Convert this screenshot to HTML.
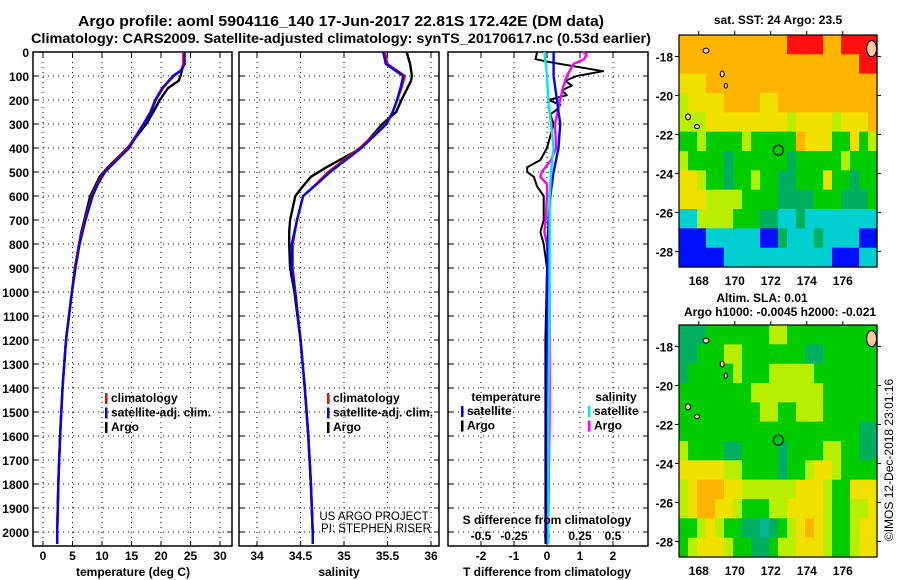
<!DOCTYPE html>
<html><head><meta charset="utf-8"><style>
body{margin:0;background:#fff;}
svg{display:block;font-family:"Liberation Sans",Arial,sans-serif;}
</style></head><body>
<svg id="c" width="900" height="580"></svg>
<script>
// ---- data ----
const depthTicks=[0,100,200,300,400,500,600,700,800,900,1000,1100,1200,1300,1400,1500,1600,1700,1800,1900,2000];
const tempTicks=[0,5,10,15,20,25,30];
const salTicks=[34,34.5,35,35.5,36];
const salTickLabels=["34","34.5","35","35.5","36"];
const dTTicks=[-2,-1,0,1,2];
const dSTickLabels=["-0.5","-0.25","0","0.25","0.5"];
const dSTicks=[-0.5,-0.25,0,0.25,0.5];
const latTicks=[-18,-20,-22,-24,-26,-28];
const lonTicks=[168,170,172,174,176];

const climDepth=[0,50,75,100,150,200,250,300,400,500,550,600,700,800,900,1000,1200,1400,1600,1800,2000,2050];
const climTemp=[23.8,23.8,23.4,22.2,20.2,19.0,18.2,17.0,14.4,10.4,9.2,8.3,7.1,6.1,5.4,4.9,3.9,3.3,2.9,2.6,2.4,2.4];
const satTemp=[24.0,24.0,23.5,22.0,20.3,19.1,18.3,17.1,14.6,10.5,9.3,8.4,7.2,6.2,5.5,4.9,3.9,3.3,2.9,2.6,2.4,2.4];
const argoDepth=[0,50,100,120,150,200,250,300,400,480,520,550,600,700,750,800,900,1000,1200,1400,1600,1800,2000,2050];
const argoTemp=[23.9,23.8,23.3,23.0,21.2,19.8,18.7,17.5,14.3,11.0,9.6,9.0,8.0,7.0,6.5,6.1,5.4,4.9,3.9,3.3,2.9,2.6,2.4,2.4];

const climSal=[35.47,35.5,35.6,35.7,35.66,35.61,35.56,35.48,35.18,34.82,34.68,34.53,34.46,34.41,34.41,34.44,34.5,34.55,34.59,34.62,34.64,34.64];
const satSal=[35.45,35.48,35.58,35.68,35.65,35.61,35.56,35.49,35.2,34.84,34.69,34.53,34.46,34.4,34.4,34.44,34.5,34.55,34.59,34.62,34.64,34.64];
const argoSal=[35.72,35.76,35.78,35.77,35.73,35.66,35.6,35.44,35.2,34.8,34.62,34.55,34.44,34.38,34.37,34.37,34.38,34.43,34.5,34.55,34.59,34.62,34.64,34.64];

const dArgoDepth=[0,30,45,80,100,120,140,160,180,200,220,240,260,300,350,400,450,480,500,520,560,600,700,750,800,900,1200,1600,2000,2050];
const dArgoT=[-0.3,-0.35,0.2,1.7,0.9,0.55,0.75,0.45,0.6,0.05,0.4,0.3,0.1,0.2,0.1,0.0,-0.2,-0.6,-0.6,-0.4,-0.3,-0.1,-0.1,-0.2,-0.1,0.0,-0.05,-0.05,-0.05,-0.05];
const dSatDepth=[0,100,200,300,400,500,600,700,800,1000,1500,2000,2050];
const dSatT=[0.2,0.2,0.3,0.4,0.35,0.2,0.1,0.05,0.02,0.0,0.0,0.0,0.0];
const dArgoSDepth=[0,10,30,50,100,150,200,250,300,400,450,500,520,550,600,700,750,800,1000,1500,2000,2050];
const dArgoS=[0.27,0.3,0.28,0.2,0.15,0.12,0.1,0.08,0.06,0.07,0.03,-0.04,-0.05,0.0,0.0,-0.01,-0.02,0.0,0.02,0.02,0.01,0.01];
const dSatS=[-0.02,0.0,0.01,0.03,0.05,0.03,0.02,0.02,0.02,0.02,0.01,0.01,0.01];

const sstRows=[
"OOOOOOOOOOOORRRROORRRR","OOOOOOOOOOOOOOOOOOOORR","YYYOOOOOOOOOOOOOOOOOOO","LYYYYOOOOYYOOOOOOOOOOO",
"LLLYYYYYYYYYLYYYYLYYYO","GGLGGGGLGGGGGOYYYGGYGL","LGGGGDGGGGGGDGGGGGLGGG","YYLGGDGGLGGDDGGGYGGDGG",
"YYYLLLLGGGGDDDDGGGDDDG","CCLLLLGGGDDCCDCCCCCCCC","BBBCCCCCCBBDCCCDCCCCBB","BBBBBCCCCCCCCCCCCBBBCC"];
const slaRows=[
"DDDGGGGGGGLLGGGGGGGGGG","DDGGGLLGGGGGGGDDGGGGGG","DGGGGGLGGGLLLLLGGGGGGG","GGGGGGGGLLLLLLLLGGGGGG",
"GGGGGGGGGLLGGLLLGGGGGG","GGGGGGGGGGGGGGGGGGGGDD","LGGGGDDGGGGDGGGGLLGGDD","YYYYYLLGGGGDGGLYYLGGGG",
"LYOOOYYLLLLLLYYYLGGYYY","LYOOYYLGGGLLYYYYLGGLLY","GGLYLGGDDTDGLYOYLGGLYY","GLYYYLGGDDGLLYYYLGGLYY"];
const palette={R:"#ff1010",O:"#ffb400",Y:"#f0e000",L:"#b8ee00",G:"#00cc00",D:"#00b060",C:"#00d0d0",B:"#0010ff",T:"#00b890"};

// ---- drawing ----
const NS="http://www.w3.org/2000/svg";
const svg=document.getElementById('c');
function mk(tag,attrs,parent){const e=document.createElementNS(NS,tag);for(const k in attrs)e.setAttribute(k,attrs[k]);(parent||svg).appendChild(e);return e;}
function txt(x,y,s,size,anchor,weight,parent){const t=mk('text',{x:x,y:y,'font-size':size,'text-anchor':anchor||'middle','font-weight':weight||'bold',fill:'#000'},parent);t.textContent=s;return t;}

const TOP=52, BOT=546;
const yD=d=>TOP+d*0.24;
const panels=[
 {x0:33,x1:232,name:'temperature-panel'},
 {x0:239,x1:439,name:'salinity-panel'},
 {x0:448,x1:648,name:'difference-panel'}];
const xT=t=>43+t*5.9;
const xS=s=>257+(s-34)*87;
const xdT=t=>547+t*33;
const xdS=s=>547+s*132;

function grid(p,xs,g){
  for(const d of depthTicks){const y=yD(d);
    const l=mk('line',{x1:p.x0,x2:p.x1,y1:y,y2:y,stroke:'#000','stroke-width':1,'stroke-dasharray':'1,4'},g);
    
    mk('line',{x1:p.x0,x2:p.x0+5,y1:y,y2:y,stroke:'#000'},g);mk('line',{x1:p.x1-5,x2:p.x1,y1:y,y2:y,stroke:'#000'},g);}
  for(const x of xs){
    const l=mk('line',{x1:x,x2:x,y1:TOP,y2:BOT,stroke:'#000','stroke-width':1,'stroke-dasharray':'1,4'},g);
    
    mk('line',{x1:x,x2:x,y1:BOT-5,y2:BOT,stroke:'#000'},g);mk('line',{x1:x,x2:x,y1:TOP,y2:TOP+5,stroke:'#000'},g);}
  const r=mk('rect',{x:p.x0,y:TOP,width:p.x1-p.x0,height:BOT-TOP,fill:'none',stroke:'#000','stroke-width':1.5},g);
  
}
function line(depths,vals,fx,color,g,name,w){
  const pts=depths.map((d,i)=>fx(vals[i]).toFixed(1)+','+yD(d).toFixed(1)).join(' ');
  const l=mk('polyline',{points:pts,fill:'none',stroke:color,'stroke-width':w||2.4,'stroke-linejoin':'round'},g);
  
}
function legend(x,y,items,g){
  items.forEach((it,i)=>{const yy=y+i*14.5;
    mk('rect',{x:x,y:yy-9,width:2.5,height:11,fill:it[1]},g);
    const t=txt(x+6,yy,it[0],12,'start','bold',g);
    });
}

// titles
let t=txt(341,26,'Argo profile: aoml 5904116_140 17-Jun-2017 22.81S 172.42E (DM data)',14.5);
t.setAttribute('textLength','526');t.setAttribute('lengthAdjust','spacingAndGlyphs');

t=txt(341,43,'Climatology: CARS2009. Satellite-adjusted climatology: synTS_20170617.nc (0.53d earlier)',14);
t.setAttribute('textLength','620');t.setAttribute('lengthAdjust','spacingAndGlyphs');


// panel 1
let g=mk('g',{});
grid(panels[0],tempTicks.map(xT),g);
depthTicks.forEach(d=>{const l=txt(29,yD(d)+5,String(d),12,'end','bold',g);});
tempTicks.forEach(v=>{const l=txt(xT(v),560,String(v),12,'middle','bold',g);});
line(argoDepth,argoTemp,xT,'#000',g,'argo-temp-line');
line(climDepth,climTemp,xT,'#ff0000',g,'clim-temp-line');
line(climDepth,satTemp,xT,'#0000ff',g,'sat-temp-line');
legend(105,402,[['climatology','#ff0000'],['satellite-adj. clim.','#0000ff'],['Argo','#000']],g);
t=txt(133,576,'temperature (deg C)',12,'middle','bold',g);

// panel 2
g=mk('g',{});
grid(panels[1],salTicks.map(xS),g);
salTicks.forEach((v,i)=>{const l=txt(xS(v),560,salTickLabels[i],12,'middle','bold',g);});
line(argoDepth,argoSal,xS,'#000',g,'argo-sal-line');
line(climDepth,climSal,xS,'#ff0000',g,'clim-sal-line');
line(climDepth,satSal,xS,'#0000ff',g,'sat-sal-line');
legend(327,402,[['climatology','#ff0000'],['satellite-adj. clim.','#0000ff'],['Argo','#000']],g);
t=txt(374,520,'US ARGO PROJECT',11.5,'middle','normal',g);
t=txt(376,532,'PI: STEPHEN RISER',11.5,'middle','normal',g);
t=txt(339,576,'salinity',12,'middle','bold',g);

// panel 3
g=mk('g',{});
grid(panels[2],dTTicks.map(xdT),g);
dTTicks.forEach(v=>{const l=txt(xdT(v),560,String(v),12,'middle','bold',g);});
dSTicks.forEach((v,i)=>{const l=txt(xdS(v),540,dSTickLabels[i],12,'middle','bold',g);});
line(dArgoDepth,dArgoT,xdT,'#000',g,'argo-dT-line',2);
line(dArgoSDepth,dArgoS,xdS,'#ff00ff',g,'argo-dS-line',2.4);
line(dSatDepth,dSatT,xdT,'#0000ff',g,'sat-dT-line',2.4);
line(dSatDepth,dSatS,xdS,'#00e8e8',g,'sat-dS-line',2.4);
txt(506,401,'temperature',12,'middle','bold',g);
legend(461,415,[['satellite','#0000ff'],['Argo','#000']],g);
txt(616,401,'salinity',12,'middle','bold',g);
legend(588,415,[['satellite','#00e8e8'],['Argo','#ff00ff']],g);
t=txt(547,524,'S difference from climatology',12,'middle','bold',g);
t=txt(547,576,'T difference from climatology',12,'middle','bold',g);

// maps
function map(y0,y1,rows,name){
  const x0=679,x1=877;
  const gx=mk('g',{});
  const lon=v=>x0+(v-166.9)*18;
  const lat=v=>y0+(-16.9-v)*(y1-y0)/11.9;
  const cw=(x1-x0)/22, ch=(y1-y0)/rows.length;
  rows.forEach((r,i)=>{for(let j=0;j<r.length;j++){
    mk('rect',{x:x0+j*cw,y:y0+i*ch,width:cw+0.6,height:ch+0.6,fill:palette[r[j]]},gx);}});
  // islands
  [[168.4,-17.7,3,2.5],[169.3,-18.9,2,3],[169.5,-19.5,1.5,2.5],[167.4,-21.1,2.5,3],[167.9,-21.6,2.5,2],[177.6,-17.6,5,8]].forEach(s=>{
    const e=mk('ellipse',{cx:lon(s[0]),cy:lat(s[1]),rx:s[2],ry:s[3],fill:'#ffc8a0',stroke:'#000','stroke-width':1},gx);
    });
  const c=mk('circle',{cx:lon(172.42),cy:lat(-22.81),r:5,fill:'none',stroke:'#000','stroke-width':1.2},gx);
  
  mk('rect',{x:x0,y:y0,width:x1-x0,height:y1-y0,fill:'none',stroke:'#000','stroke-width':1.2},gx);
  latTicks.forEach(v=>{const y=lat(v);mk('line',{x1:x0-4,x2:x0,y1:y,y2:y,stroke:'#000'},gx);mk('line',{x1:x1,x2:x1+4,y1:y,y2:y,stroke:'#000'},gx);
    const l=txt(x0-6,y+5,String(v),12,'end','bold',gx);});
  lonTicks.forEach(v=>{const x=lon(v);mk('line',{x1:x,x2:x,y1:y0-4,y2:y0,stroke:'#000'},gx);
    const l=txt(x,y1+18,String(v),12,'middle','bold',gx);});
}
map(35,267,sstRows,'sst-map');
map(325,557,slaRows,'sla-map');
t=txt(778,24,'sat. SST: 24 Argo: 23.5',12);
t=txt(762,302,'Altim. SLA: 0.01',12);
t=txt(780,316,'Argo h1000: -0.0045 h2000: -0.021',12);
t=txt(0,0,'©IMOS 12-Dec-2018 23:01:16',12,'middle','normal');
t.setAttribute('transform','translate(893,460) rotate(-90)');

</script>
</body></html>
